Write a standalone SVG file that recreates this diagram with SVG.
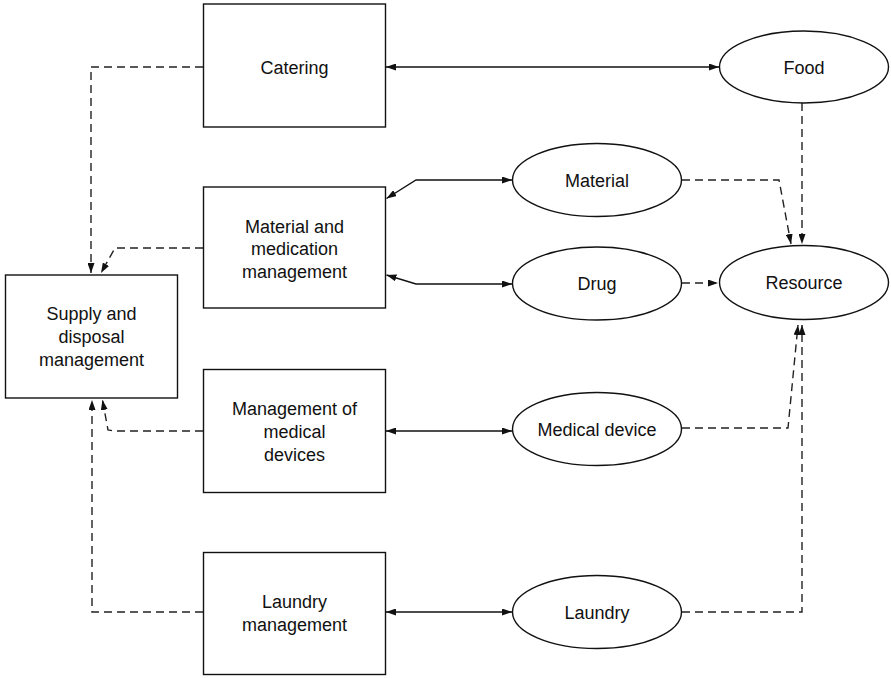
<svg xmlns="http://www.w3.org/2000/svg" width="891" height="678" viewBox="0 0 891 678">
<defs>
<marker id="ah" markerUnits="userSpaceOnUse" markerWidth="10" markerHeight="7" refX="10" refY="3.5" orient="auto-start-reverse"><path d="M0,0 L10,3.5 L0,7 z" fill="#111"/></marker>
<style>
.box{fill:#fff;stroke:#111;stroke-width:1.4}
.t{font-family:"Liberation Sans",Arial,sans-serif;font-size:18px;fill:#111;text-anchor:middle}
.s{fill:none;stroke:#111;stroke-width:1.4}
.d{fill:none;stroke:#222;stroke-width:1.4;stroke-dasharray:8,5}
</style>
</defs>
<rect width="891" height="678" fill="#fff"/>
<g id="connectors">
<path class="s" d="M386,67 L719,67" marker-start="url(#ah)" marker-end="url(#ah)"/>
<path class="s" d="M386.5,198.5 L416,180 L512,180" marker-start="url(#ah)" marker-end="url(#ah)"/>
<path class="s" d="M386.5,275 L416,284 L512,284" marker-start="url(#ah)" marker-end="url(#ah)"/>
<path class="s" d="M386,431 L512,431" marker-start="url(#ah)" marker-end="url(#ah)"/>
<path class="s" d="M386,612 L512,612" marker-start="url(#ah)" marker-end="url(#ah)"/>
<path class="d" d="M802,103 L802,244" marker-end="url(#ah)"/>
<path class="d" d="M682,180 L779,180 L791,244" marker-end="url(#ah)"/>
<path class="d" d="M682,283 L718,283" marker-end="url(#ah)"/>
<path class="d" d="M682,428 L788,428 L798,325" marker-end="url(#ah)"/>
<path class="d" d="M682,612 L802,612 L802,325" marker-end="url(#ah)"/>
<path class="d" d="M203,67 L91,67 L91,273" marker-end="url(#ah)"/>
<path class="d" d="M203,248 L115,248 L101,273" marker-end="url(#ah)"/>
<path class="d" d="M203,431 L115,431 L108,430 L102.5,400" marker-end="url(#ah)"/>
<path class="d" d="M203,612 L92,612 L92,400" marker-end="url(#ah)"/>
</g>
<g id="catering"><rect class="box" x="203.5" y="4" width="182" height="123"/><text class="t" x="294.5" y="73.5">Catering</text></g>
<g id="material-mgmt"><rect class="box" x="203.5" y="187" width="182" height="121"/><text class="t" x="294.5" y="232.5">Material and</text><text class="t" x="294.5" y="255">medication</text><text class="t" x="294.5" y="278">management</text></g>
<g id="supply"><rect class="box" x="5.5" y="275" width="172" height="123"/><text class="t" x="91.5" y="320">Supply and</text><text class="t" x="91.5" y="343">disposal</text><text class="t" x="91.5" y="366">management</text></g>
<g id="medical-mgmt"><rect class="box" x="203.5" y="369.5" width="182" height="123"/><text class="t" x="294.5" y="414.5">Management of</text><text class="t" x="294.5" y="437.5">medical</text><text class="t" x="294.5" y="460.5">devices</text></g>
<g id="laundry-mgmt"><rect class="box" x="203.5" y="552.5" width="182" height="122"/><text class="t" x="294.5" y="608">Laundry</text><text class="t" x="294.5" y="631">management</text></g>
<g id="food"><ellipse class="box" cx="804" cy="67" rx="84.5" ry="36"/><text class="t" x="804" y="73.5">Food</text></g>
<g id="material"><ellipse class="box" cx="597" cy="180" rx="84.5" ry="36.5"/><text class="t" x="597" y="186.5">Material</text></g>
<g id="drug"><ellipse class="box" cx="597" cy="283.5" rx="84.5" ry="36.5"/><text class="t" x="597" y="290">Drug</text></g>
<g id="resource"><ellipse class="box" cx="804" cy="282.5" rx="84.5" ry="37"/><text class="t" x="804" y="289">Resource</text></g>
<g id="medical-device"><ellipse class="box" cx="597" cy="429" rx="84.5" ry="36.5"/><text class="t" x="597" y="435.5">Medical device</text></g>
<g id="laundry"><ellipse class="box" cx="597" cy="612" rx="84.5" ry="36.5"/><text class="t" x="597" y="618.5">Laundry</text></g>
</svg>
